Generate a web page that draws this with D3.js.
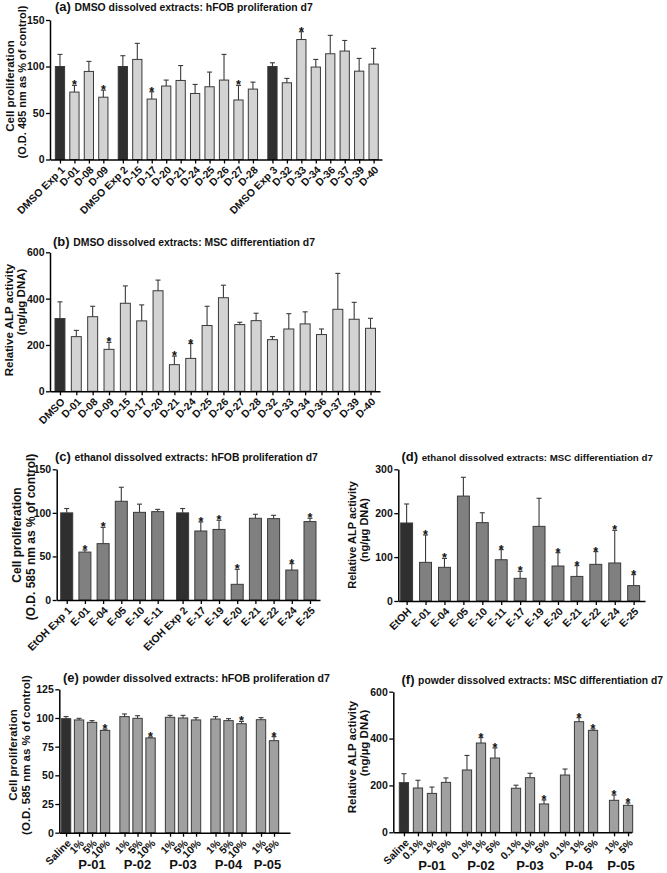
<!DOCTYPE html>
<html><head><meta charset="utf-8">
<script src="https://cdn.jsdelivr.net/npm/d3@7"></script>
<style>
body{margin:0;background:#fff}
svg{display:block;font-family:"Liberation Sans",Arial,Helvetica,sans-serif;font-weight:bold}
</style>
</head><body>
<svg id="c" width="667" height="873"></svg>
<script>
// ---------- DATA ----------
// (a) DMSO dissolved extracts: hFOB proliferation d7
const aCategories = ["DMSO Exp 1","D-01","D-08","D-09","DMSO Exp 2","D-15","D-17","D-20","D-21","D-24","D-25","D-26","D-27","D-28","DMSO Exp 3","D-32","D-33","D-34","D-36","D-37","D-39","D-40"];
const aGroups   = [0,0,0,0,1,1,1,1,1,1,1,1,1,1,2,2,2,2,2,2,2,2];
const aValues   = [100,72.5,94.7,67,100,107.6,65,79,85,71,78.2,85.4,64,75.7,100,82.5,129,99.4,113.7,116.6,95,102.6];
const aErrors   = [13,7.2,10.8,7.6,11.6,17.3,7.8,6.4,16,9.7,15.8,27.6,15.7,7.5,4,4.7,8.4,8.2,19.8,11.4,13.7,16.9];
const aStars    = [0,1,0,1,0,0,1,0,0,0,0,0,1,0,0,0,1,0,0,0,0,0];
const aControls = [1,0,0,0,1,0,0,0,0,0,0,0,0,0,1,0,0,0,0,0,0,0];
const aTicks    = [0,50,100,150];

// (b) DMSO dissolved extracts: MSC differentiation d7
const bCategories = ["DMSO","D-01","D-08","D-09","D-15","D-17","D-20","D-21","D-24","D-25","D-26","D-27","D-28","D-32","D-33","D-34","D-36","D-37","D-39","D-40"];
const bGroups   = bCategories.map(() => 0);
const bValues   = [314,236,322,181,380,304,434,115,142,284,404,288,305,223,269,291,245,354,311,272];
const bErrors   = [72,27,45,30,75,69,46,37,64,83,54,10,32,13,66,52,24,155,73,43];
const bStars    = [0,0,0,1,0,0,0,1,1,0,0,0,0,0,0,0,0,0,0,0];
const bControls = [1,0,0,0,0,0,0,0,0,0,0,0,0,0,0,0,0,0,0,0];
const bTicks    = [0,200,400,600];

// (c) ethanol dissolved extracts: hFOB proliferation d7
const cCategories = ["EtOH Exp 1","E-01","E-04","E-05","E-10","E-11","EtOH Exp 2","E-17","E-19","E-20","E-21","E-22","E-24","E-25"];
const cGroups   = [0,0,0,0,0,0,1,1,1,1,1,1,1,1];
const cValues   = [100,55,64.7,113.3,100.6,101.4,100,79.2,81,18,93.8,93.4,34.4,90];
const cErrors   = [5,2.4,18.7,16.1,9.4,2.6,5,10.4,10.5,17.2,4.6,3.8,7.3,3.8];
const cStars    = [0,1,1,0,0,0,0,1,1,1,0,0,1,1];
const cControls = [1,0,0,0,0,0,1,0,0,0,0,0,0,0];
const cTicks    = [0,50,100,150];

// (d) ethanol dissolved extracts: MSC differentiation d7
const dCategories = ["EtOH","E-01","E-04","E-05","E-10","E-11","E-17","E-19","E-20","E-21","E-22","E-24","E-25"];
const dGroups   = dCategories.map(() => 0);
const dValues   = [177.7,88,76.7,239,178.5,94,51.6,170,79.7,56,83.5,86.6,35];
const dErrors   = [43.3,62.4,20.3,42.8,22.5,23,16,64,30.3,24.5,28.9,74.4,25];
const dStars    = [0,1,1,0,0,1,1,0,1,1,1,1,1];
const dControls = [1,0,0,0,0,0,0,0,0,0,0,0,0];
const dTicks    = [0,100,200,300];

// (e) powder dissolved extracts: hFOB proliferation d7
const eCategories = ["Saline","1%","5%","10%","1%","5%","10%","1%","5%","10%","1%","5%","10%","1%","5%"];
const eGroupNames = ["P-01","P-02","P-03","P-04","P-05"];
const eGroups   = [0,0,0,0,1,1,1,2,2,2,3,3,3,4,4];
const eGroupOf  = [-1,0,0,0,1,1,1,2,2,2,3,3,3,4,4];
const eValues   = [99.4,98.3,96.2,89.2,101.2,99.7,82.6,100.6,100,98.3,99.1,97.7,95,98.5,80.2];
const eErrors   = [1.8,1.4,1.5,1.1,2.3,2.3,0.8,1.7,2.3,2,2.1,1.7,2,1.8,3.5];
const eStars    = [0,0,0,1,0,0,1,0,0,0,0,0,1,0,1];
const eControls = [1,0,0,0,0,0,0,0,0,0,0,0,0,0,0];
const eTicks    = [0,25,50,75,100,125];

// (f) powder dissolved extracts: MSC differentiation d7
const fCategories = ["Saline","0.1%","1%","5%","0.1%","1%","5%","0.1%","1%","5%","0.1%","1%","5%","1%","5%"];
const fGroupNames = ["P-01","P-02","P-03","P-04","P-05"];
const fGroups   = [0,0,0,0,1,1,1,2,2,2,3,3,3,4,4];
const fGroupOf  = [-1,0,0,0,1,1,1,2,2,2,3,3,3,4,4];
const fValues   = [212,189,166,213,266,381,317,188,233,121,244.5,472,435,136.5,115];
const fErrors   = [38,33,27,19,62,23,43,13,19,17,25.5,17,6,22.5,10];
const fStars    = [0,0,0,0,0,1,1,0,0,1,0,1,1,1,1];
const fControls = [1,0,0,0,0,0,0,0,0,0,0,0,0,0,0];
const fTicks    = [0,200,400,600];

// ---------- DRAWING ----------
const svg = d3.select("#c");
const DARK = "#2f2f2f", EDGE = "#3a3a3a";

function drawPanel(c) {
  const g = svg.append("g");
  const pos = c.cats.map((d, i) => i + c.gap * c.groups[i]);
  const x = d3.scaleLinear().domain([d3.min(pos) - c.padL, d3.max(pos) + c.padR]).range(c.xRange);
  const y = d3.scaleLinear().domain([0, c.yMax]).range(c.yRange);
  const bw = (x(1) - x(0)) * c.barFrac;
  const base = y(0);

  const idx = d3.range(c.values.length);
  // bars
  g.selectAll("rect.bar").data(idx).join("rect")
    .attr("x", i => x(pos[i]) - bw / 2)
    .attr("y", i => y(c.values[i]))
    .attr("width", bw)
    .attr("height", i => base - y(c.values[i]))
    .attr("fill", i => c.controls[i] ? DARK : c.fill)
    .attr("stroke", EDGE).attr("stroke-width", 1);
  // error bars (upper)
  g.selectAll("line.err").data(idx).join("line")
    .attr("x1", i => x(pos[i])).attr("x2", i => x(pos[i]))
    .attr("y1", i => y(c.values[i])).attr("y2", i => y(c.values[i] + c.errors[i]))
    .attr("stroke", EDGE).attr("stroke-width", 1.1);
  g.selectAll("line.cap").data(idx).join("line")
    .attr("x1", i => x(pos[i]) - 2.5).attr("x2", i => x(pos[i]) + 2.5)
    .attr("y1", i => y(c.values[i] + c.errors[i])).attr("y2", i => y(c.values[i] + c.errors[i]))
    .attr("stroke", EDGE).attr("stroke-width", 1.1);
  // stars
  g.selectAll("text.star").data(idx.filter(i => c.stars[i])).join("text")
    .attr("x", i => x(pos[i])).attr("y", i => y(c.values[i] + c.errors[i]) + 4)
    .attr("text-anchor", "middle").attr("font-size", 12.5).attr("fill", "#111").text("*");

  // y axis
  const ya = g.append("g").attr("transform", `translate(${c.xRange[0]},0)`)
    .call(d3.axisLeft(y).tickValues(c.ticks).tickSize(4).tickSizeOuter(0).tickPadding(1.5));
  ya.select(".domain").attr("stroke", "#000").attr("stroke-width", 1.5);
  ya.selectAll(".tick line").attr("stroke", "#000").attr("stroke-width", 1.3);
  ya.selectAll(".tick text").attr("font-size", 10.5).attr("font-family", null).attr("font-weight", "bold").attr("fill", "#111");

  // x axis
  const xa = g.append("g").attr("transform", `translate(0,${base})`)
    .call(d3.axisBottom(x).tickValues(pos).tickSize(4).tickSizeOuter(0).tickFormat(""));
  xa.select(".domain").attr("stroke", "#000").attr("stroke-width", 1.5);
  xa.selectAll(".tick line").attr("stroke", "#000").attr("stroke-width", 1.3);
  g.selectAll("text.xl").data(idx).join("text")
    .attr("transform", i => `translate(${x(pos[i]) + 3},${base + 8.5}) rotate(-45)`)
    .attr("text-anchor", "end").attr("dy", "0.35em")
    .attr("font-size", c.xFont || 10.5).attr("fill", "#111").text(i => c.cats[i]);

  // group labels
  if (c.groupNames) {
    c.groupNames.forEach((name, k) => {
      const members = idx.filter(i => c.groupOf[i] === k).map(i => x(pos[i]));
      g.append("text").attr("x", d3.mean(members)).attr("y", c.groupY)
        .attr("text-anchor", "middle").attr("font-size", 13).attr("fill", "#111").text(name);
    });
  }

  // title (fit to the width seen in the reference)
  const t = g.append("text").attr("x", c.title.x).attr("y", c.title.y).attr("fill", "#111");
  t.append("tspan").attr("font-size", 13).text(c.title.tag + " ");
  const rest = t.append("tspan").attr("font-size", 10.5).text(c.title.text);
  const w = t.node().getComputedTextLength();
  const tagW = w - rest.node().getComputedTextLength();
  const target = c.title.end - c.title.x - tagW;
  const fs = 10.5 * target / rest.node().getComputedTextLength();
  rest.attr("font-size", Math.min(11, fs).toFixed(2));

  // y label
  c.ylab.forEach(l => {
    g.append("text").attr("transform", `translate(${l.x},${l.y}) rotate(-90)`)
      .attr("text-anchor", "middle").attr("font-size", l.size).attr("fill", "#111").text(l.text);
  });
}

drawPanel({cats: aCategories, groups: aGroups, values: aValues, errors: aErrors, stars: aStars, controls: aControls, ticks: aTicks,
  gap: 0.35, xRange: [50, 382], padL: 0.69, padR: 0.58, yMax: 150, yRange: [159.5, 20], fill: "#d3d3d3", barFrac: 0.64,
  title: {x: 55, y: 11, end: 313, tag: "(a)", text: "DMSO dissolved extracts: hFOB proliferation d7"},
  ylab: [{x: 14, y: 86, size: 11.5, text: "Cell proliferation"}, {x: 26, y: 82, size: 11, text: "(O.D. 485 nm as % of control)"}]});

drawPanel({cats: bCategories, groups: bGroups, values: bValues, errors: bErrors, stars: bStars, controls: bControls, ticks: bTicks,
  gap: 0, xRange: [50, 380], padL: 0.61, padR: 0.58, yMax: 600, yRange: [391.3, 252.3], fill: "#d3d3d3", barFrac: 0.61,
  title: {x: 53, y: 246, end: 315, tag: "(b)", text: "DMSO dissolved extracts: MSC differentiation d7"},
  ylab: [{x: 12.5, y: 320, size: 11.5, text: "Relative ALP activity"}, {x: 24.5, y: 302, size: 11.5, text: "(ng/µg DNA)"}]});

drawPanel({cats: cCategories, groups: cGroups, values: cValues, errors: cErrors, stars: cStars, controls: cControls, ticks: cTicks,
  gap: 0.37, xRange: [56.7, 320], padL: 0.55, padR: 0.55, yMax: 150, yRange: [600, 469.3], fill: "#808080", barFrac: 0.66,
  title: {x: 55, y: 461, end: 318, tag: "(c)", text: "ethanol dissolved extracts: hFOB proliferation d7"},
  ylab: [{x: 21, y: 535, size: 12, text: "Cell proliferation"}, {x: 35, y: 537, size: 12, text: "(O.D. 585 nm as % of control)"}]});

drawPanel({cats: dCategories, groups: dGroups, values: dValues, errors: dErrors, stars: dStars, controls: dControls, ticks: dTicks,
  gap: 0, xRange: [398.3, 645], padL: 0.44, padR: 0.6, yMax: 300, yRange: [601, 469.3], fill: "#808080", barFrac: 0.63,
  title: {x: 401.5, y: 461, end: 653, tag: "(d)", text: "ethanol dissolved extracts: MSC differentiation d7"},
  ylab: [{x: 356, y: 535, size: 11, text: "Relative ALP activity"}, {x: 367.5, y: 530, size: 11, text: "(ng/µg DNA)"}]});

drawPanel({cats: eCategories, groups: eGroups, values: eValues, errors: eErrors, stars: eStars, controls: eControls, ticks: eTicks,
  gap: 0.5, xRange: [59.3, 290], padL: 0.52, padR: 1.23, yMax: 125, yRange: [832.7, 689.3], fill: "#a0a0a0", barFrac: 0.72,
  groupNames: eGroupNames, groupOf: eGroupOf, groupY: 869,
  title: {x: 63, y: 682, end: 330, tag: "(e)", text: "powder dissolved extracts: hFOB proliferation d7"},
  ylab: [{x: 17, y: 755, size: 11.5, text: "Cell proliferation"}, {x: 30, y: 755, size: 11.5, text: "(O.D. 585 nm as % of control)"}]});

drawPanel({cats: fCategories, groups: fGroups, values: fValues, errors: fErrors, stars: fStars, controls: fControls, ticks: fTicks,
  gap: 0.5, xRange: [393.3, 631.7], padL: 0.76, padR: 0.26, yMax: 600, yRange: [832.3, 691.7], fill: "#a0a0a0", barFrac: 0.66,
  groupNames: fGroupNames, groupOf: fGroupOf, groupY: 870,
  title: {x: 401.5, y: 684, end: 663, tag: "(f)", text: "powder dissolved extracts: MSC differentiation d7"},
  ylab: [{x: 356, y: 757, size: 11.5, text: "Relative ALP activity"}, {x: 368, y: 743, size: 11.5, text: "(ng/µg DNA)"}]});
</script>
</body></html>
